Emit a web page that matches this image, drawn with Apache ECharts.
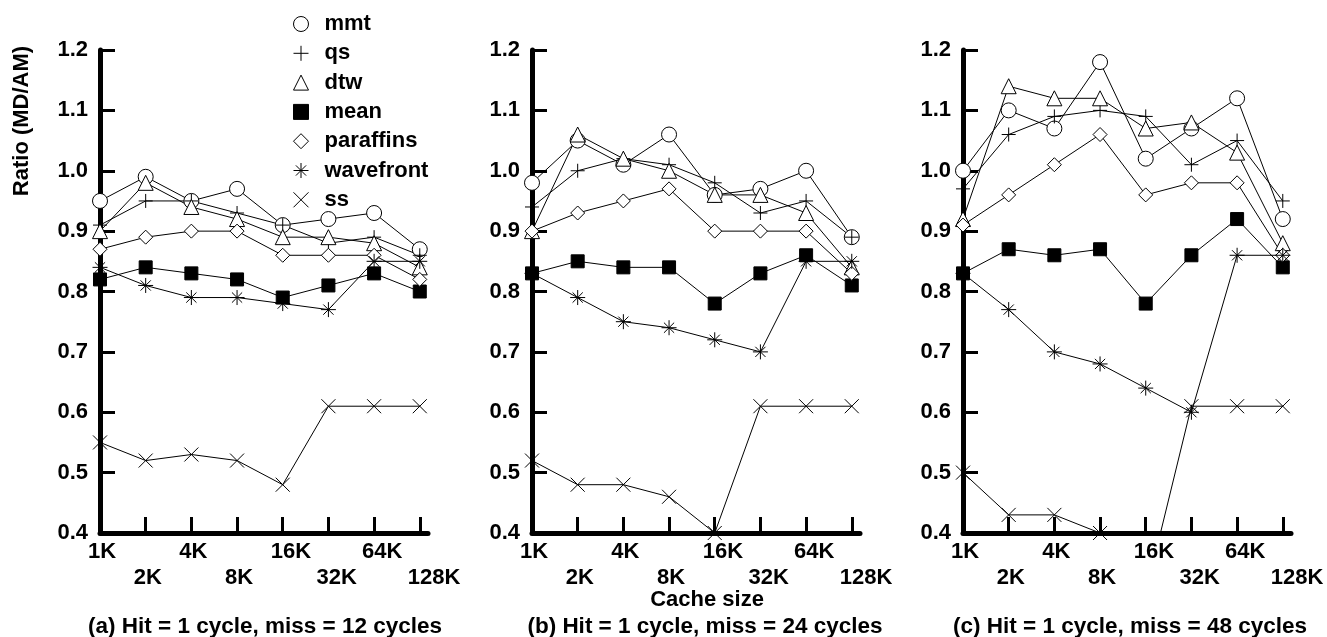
<!DOCTYPE html>
<html>
<head>
<meta charset="utf-8">
<script src="https://cdn.jsdelivr.net/npm/echarts@6/dist/echarts.min.js"></script>
<style>
html,body{margin:0;padding:0;background:#fff;}
#chart{width:1327px;height:637px;}
</style>
</head>
<body>
<div id="chart"></div>
<script>
// ---- data ----
const categories = ['1K', '2K', '4K', '8K', '16K', '32K', '64K', '128K'];
const seriesNames = ['mmt', 'qs', 'dtw', 'mean', 'paraffins', 'wavefront', 'ss'];
const panelTitles = ['(a) Hit = 1 cycle, miss = 12 cycles', '(b) Hit = 1 cycle, miss = 24 cycles', '(c) Hit = 1 cycle, miss = 48 cycles'];
const xAxisTitle = 'Cache size';
const yAxisTitle = 'Ratio (MD/AM)';

// panel (a) miss = 12
const mmtA       = [0.95, 0.99, 0.95, 0.97, 0.91, 0.92, 0.93, 0.87];
const qsA        = [0.91, 0.95, 0.95, 0.93, 0.91, 0.88, 0.89, 0.86];
const dtwA       = [0.90, 0.98, 0.94, 0.92, 0.89, 0.89, 0.88, 0.84];
const meanA      = [0.82, 0.84, 0.83, 0.82, 0.79, 0.81, 0.83, 0.80];
const paraffinsA = [0.87, 0.89, 0.90, 0.90, 0.86, 0.86, 0.86, 0.82];
const wavefrontA = [0.84, 0.81, 0.79, 0.79, 0.78, 0.77, 0.85, 0.85];
const ssA        = [0.55, 0.52, 0.53, 0.52, 0.48, 0.61, 0.61, 0.61];

// panel (b) miss = 24
const mmtB       = [0.98, 1.05, 1.01, 1.06, 0.96, 0.97, 1.00, 0.89];
const qsB        = [0.94, 1.00, 1.02, 1.01, 0.98, 0.93, 0.95, 0.89];
const dtwB       = [0.90, 1.06, 1.02, 1.00, 0.96, 0.96, 0.93, 0.84];
const meanB      = [0.83, 0.85, 0.84, 0.84, 0.78, 0.83, 0.86, 0.81];
const paraffinsB = [0.90, 0.93, 0.95, 0.97, 0.90, 0.90, 0.90, 0.83];
const wavefrontB = [0.83, 0.79, 0.75, 0.74, 0.72, 0.70, 0.85, 0.85];
const ssB        = [0.52, 0.48, 0.48, 0.46, 0.40, 0.61, 0.61, 0.61];

// panel (c) miss = 48
const mmtC       = [1.00, 1.10, 1.07, 1.18, 1.02, 1.07, 1.12, 0.92];
const qsC        = [0.97, 1.06, 1.09, 1.10, 1.09, 1.01, 1.05, 0.95];
const dtwC       = [0.92, 1.14, 1.12, 1.12, 1.07, 1.08, 1.03, 0.88];
const meanC      = [0.83, 0.87, 0.86, 0.87, 0.78, 0.86, 0.92, 0.84];
const paraffinsC = [0.91, 0.96, 1.01, 1.06, 0.96, 0.98, 0.98, 0.86];
const wavefrontC = [0.83, 0.77, 0.70, 0.68, 0.64, 0.60, 0.86, 0.86];
const ssC        = [0.50, 0.43, 0.43, 0.40, 0.30, 0.61, 0.61, 0.61];

const panels = [
  {mmt: mmtA, qs: qsA, dtw: dtwA, mean: meanA, paraffins: paraffinsA, wavefront: wavefrontA, ss: ssA},
  {mmt: mmtB, qs: qsB, dtw: dtwB, mean: meanB, paraffins: paraffinsB, wavefront: wavefrontB, ss: ssB},
  {mmt: mmtC, qs: qsC, dtw: dtwC, mean: meanC, paraffins: paraffinsC, wavefront: wavefrontC, ss: ssC}
];

// ---- styling ----
const FONT = '"Liberation Sans", Arial, Helvetica, sans-serif';
const SYM = {
  mmt: 'circle',
  qs: 'path://M0,5L10,5M5,0L5,10',
  dtw: 'triangle',
  mean: 'rect',
  paraffins: 'diamond',
  wavefront: 'path://M0,5L10,5M5,0L5,10M1.6,1.6L8.4,8.4M8.4,1.6L1.6,8.4',
  ss: 'path://M0,0L10,10M10,0L0,10'
};
const SYMSIZE = {mmt: 15, qs: 14, dtw: 15, mean: 13, paraffins: 14, wavefront: 15, ss: 14};
const axisLefts = [100, 532, 963];
const gridTop = 50, gridH = 483, gridW = 328;
const xMax = 7.18;
const tickVals = categories.map((c, i) => i);

const grids = [], xAxes = [], yAxes = [], series = [], graphics = [];
axisLefts.forEach((L, p) => {
  grids.push({left: L, top: gridTop, width: gridW, height: gridH});
});
axisLefts.forEach((L, p) => {
  grids.push({left: L - 12, top: gridTop, width: gridW, height: gridH});
});
axisLefts.forEach((L, p) => {
  xAxes.push({
    gridIndex: p, type: 'value', min: 0, max: xMax,
    axisLine: {show: true, onZero: false, lineStyle: {color: '#000', width: 5}},
    axisTick: {show: true, inside: true, length: 16, customValues: tickVals, lineStyle: {color: '#000', width: 3}},
    axisLabel: {show: false},
    splitLine: {show: false}
  });
  yAxes.push({
    gridIndex: p, type: 'value', min: 0.4, max: 1.2, interval: 0.1,
    axisLine: {show: true, onZero: false, lineStyle: {color: '#000', width: 5}},
    axisTick: {show: true, inside: true, length: 15, lineStyle: {color: '#000', width: 3}},
    axisLabel: {show: true, margin: 12, color: '#000', fontSize: 22, fontWeight: 'bold', fontFamily: FONT,
      formatter: v => v.toFixed(1)},
    splitLine: {show: false}
  });
});
axisLefts.forEach((L, p) => {
  xAxes.push({
    gridIndex: 3 + p, type: 'value', min: 0, max: xMax,
    axisLine: {show: false}, axisTick: {show: false}, splitLine: {show: false},
    axisLabel: {show: true, customValues: tickVals, align: 'left', margin: 6, lineHeight: 26,
      color: '#000', fontSize: 22, fontWeight: 'bold', fontFamily: FONT,
      formatter: v => { const i = Math.round(v); return (i % 2 ? '\n' : '') + categories[i]; }}
  });
  yAxes.push({gridIndex: 3 + p, type: 'value', min: 0, max: 1, show: false});
});

panels.forEach((pd, p) => {
  seriesNames.forEach(name => {
    series.push({
      type: 'line', name: name, xAxisIndex: p, yAxisIndex: p,
      data: pd[name].map((v, i) => [i, v]),
      symbol: SYM[name], symbolSize: SYMSIZE[name], showAllSymbol: true,
      clip: true, animation: false, silent: true,
      lineStyle: {color: '#000', width: 1},
      itemStyle: {color: name === 'mean' ? '#000' : '#fff', borderColor: '#000', borderWidth: 1},
      emphasis: {disabled: true}
    });
  });
});

const titleCenters = [265, 705, 1130];
panelTitles.forEach((t, p) => {
  graphics.push({type: 'text', x: titleCenters[p], y: 627,
    style: {text: t, font: 'bold 22.5px ' + FONT, fill: '#000', align: 'center', verticalAlign: 'middle'}});
});
graphics.push({type: 'text', x: 707, y: 600,
  style: {text: xAxisTitle, font: 'bold 22px ' + FONT, fill: '#000', align: 'center', verticalAlign: 'middle'}});
graphics.push({type: 'text', x: 22, y: 121, rotation: Math.PI / 2,
  style: {text: yAxisTitle, font: 'bold 22px ' + FONT, fill: '#000', align: 'center', verticalAlign: 'middle'}});

const chart = echarts.init(document.getElementById('chart'), null, {renderer: 'canvas'});
chart.setOption({
  backgroundColor: '#fff',
  animation: false,
  grid: grids,
  xAxis: xAxes,
  yAxis: yAxes,
  legend: {
    orient: 'vertical', left: 288, top: 8, itemWidth: 15, itemHeight: 15, itemGap: 7.3,
    selectedMode: false,
    textStyle: {color: '#000', fontSize: 22, fontWeight: 'bold', fontFamily: FONT, lineHeight: 22, padding: [0, 0, 0, 11]},
    data: seriesNames.map(n => ({name: n, icon: SYM[n],
      itemStyle: {color: n === 'mean' ? '#000' : '#fff', borderColor: '#000', borderWidth: 1}}))
  },
  graphic: graphics,
  series: series
});
</script>
</body>
</html>
